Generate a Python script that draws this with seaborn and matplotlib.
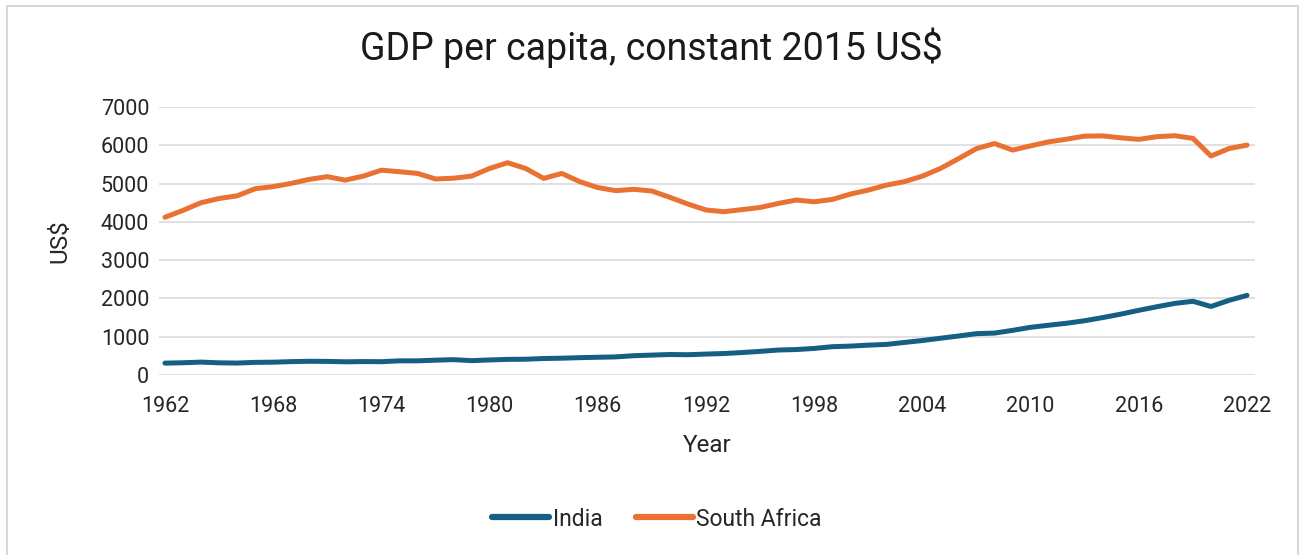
import numpy as np
import pandas as pd
import matplotlib
matplotlib.use("Agg")
import matplotlib.pyplot as plt
import seaborn as sns
from matplotlib.patches import Rectangle
from matplotlib.lines import Line2D

years = list(range(1962, 2023))

india = [310, 320, 337, 318, 312, 330, 335, 349, 358, 355,
         345, 351, 347, 370, 370, 387, 401, 375, 393, 408,
         412, 431, 439, 453, 463, 473, 504, 520, 535, 530,
         547, 561, 587, 617, 652, 665, 694, 739, 755, 780,
         799, 850, 901, 960, 1018, 1080, 1095, 1166, 1246, 1300,
         1352, 1418, 1500, 1590, 1690, 1783, 1871, 1925, 1790, 1950,
         2080]

south_africa = [4120, 4300, 4500, 4610, 4680, 4865, 4920, 5005, 5110, 5180,
                5090, 5195, 5350, 5310, 5265, 5120, 5140, 5195, 5395, 5545,
                5395, 5135, 5265, 5050, 4895, 4815, 4850, 4805, 4640, 4465,
                4310, 4265, 4320, 4375, 4480, 4570, 4525, 4585, 4725, 4830,
                4960, 5050, 5195, 5395, 5650, 5915, 6045, 5875, 5985, 6090,
                6160, 6240, 6245, 6195, 6155, 6225, 6250, 6180, 5720, 5915,
                6005]

countries = ["India", "South Africa"]
colors = ["#156082", "#E97132"]
x_ticks = list(range(1962, 2023, 6))
y_ticks = list(range(0, 7001, 1000))

df = pd.concat([
    pd.DataFrame({"Year": years, "US$": india, "Country": "India"}),
    pd.DataFrame({"Year": years, "US$": south_africa, "Country": "South Africa"}),
])

sns.set_theme(style="white")
plt.rcParams["font.family"] = ["Roboto", "DejaVu Sans"]

W, H = 1302, 555
fig = plt.figure(figsize=(W / 100, H / 100), dpi=100)
ax = fig.add_axes([159 / W, 1 - 375 / H, (1255 - 159) / W, (375 - 107) / H])

sns.lineplot(data=df, x="Year", y="US$", hue="Country", hue_order=countries,
             palette=colors, linewidth=3.6, ax=ax, legend=False,
             solid_capstyle="round")

ax.set_xlim(1961.67, 2022.44)
ax.set_ylim(0, 7000)
ax.set_xticks(x_ticks)
ax.set_yticks(y_ticks)
ax.tick_params(axis="both", length=0, labelsize=15.5, colors="#262626")
ax.tick_params(axis="x", pad=15)
ax.tick_params(axis="y", pad=7)
ax.grid(axis="y", color="#d9d9d9", linewidth=1.1)
ax.grid(axis="x", visible=False)
for s in ax.spines.values():
    s.set_visible(False)

ax.set_xlabel("Year", fontsize=17.5, color="#262626")
ax.set_ylabel("US$", fontsize=17.5, color="#262626")
ax.xaxis.set_label_coords(0.5, -(446 - 375) / (375 - 107), transform=ax.transAxes)
ax.yaxis.set_label_coords(-(159 - 60) / (1255 - 159), 0.5, transform=ax.transAxes)
ax.xaxis.label.set_va("center")
ax.yaxis.label.set_va("center")

fig.text(0.5, 1 - 48 / H, "GDP per capita, constant 2015 US$", ha="center",
         va="center", fontsize=27, color="#1a1a1a")

handles = [Line2D([0], [0], color=c, linewidth=4.5, solid_capstyle="round") for c in colors]
fig.legend(handles, countries, loc="center", bbox_to_anchor=(657 / W, 1 - 519 / H),
           ncol=2, frameon=False, fontsize=16.5, handlelength=2.5,
           handletextpad=0.15, columnspacing=1.45)

fig.patches.append(Rectangle((7 / W, -0.02), (1298 - 7) / W, 1 - 6 / H + 0.02,
                             transform=fig.transFigure, fill=False,
                             edgecolor="#d0d0d0", linewidth=1.2))

fig.savefig("out.png", dpi=100)
